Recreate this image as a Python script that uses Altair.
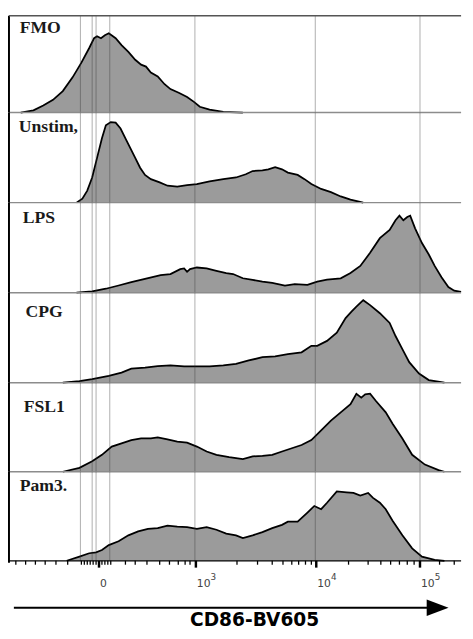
import altair as alt
import pandas as pd

# x values are logicle display channels (decade positions listed in TICK_*)
PANELS = ["FMO", "Unstim,", "LPS", "CPG", "FSL1", "Pam3."]

FMO_X = [20, 33, 43, 53, 63, 73, 82, 90, 95, 98, 102, 106, 110, 117, 123, 130, 137, 143, 148, 153, 160, 167, 173, 182, 190, 197, 203, 213, 227, 247]
FMO_Y = [0, 2.3, 7.3, 13, 22, 36, 51, 66, 76, 78, 76, 79, 81, 76, 69, 62, 54, 49, 47, 41, 37, 29, 24, 20, 16, 11, 6, 3, 0.7, 0]

UNSTIM_X = [77, 83, 88, 93, 98, 103, 107, 112, 117, 122, 127, 132, 137, 142, 147, 153, 162, 170, 180, 190, 200, 213, 227, 240, 250, 257, 267, 273, 280, 287, 293, 303, 310, 317, 327, 337, 347, 357, 370]
UNSTIM_Y = [0, 4, 12.3, 25.7, 45.7, 65.7, 79, 82.3, 81.7, 75.7, 65.7, 55.7, 45.7, 35.7, 28.3, 24, 20.7, 17.3, 16.3, 18, 19, 21.7, 24, 25.7, 29, 32.3, 33, 34, 36.3, 34, 30.7, 28.3, 24, 19, 14, 10.7, 6.3, 3, 0]

LPS_X = [77, 93, 107, 120, 133, 147, 163, 173, 183, 187, 190, 193, 200, 210, 220, 230, 237, 247, 257, 267, 277, 290, 300, 313, 323, 333, 347, 357, 367, 377, 387, 397, 403, 407, 411, 415, 418, 423, 430, 437, 443, 450, 457, 463, 470]
LPS_Y = [0, 1.3, 4, 7.3, 10.7, 14, 18, 19, 24, 24.7, 21.3, 24, 25.7, 24.7, 22.3, 20, 19, 14.7, 13, 11.3, 10, 7.3, 8.7, 8, 11.3, 13.3, 14.7, 20, 27.3, 40.7, 55.7, 64, 74, 78.7, 74, 77.3, 78.7, 65.7, 50.7, 39, 27.3, 15.7, 5.7, 2, 0.7]

CPG_X = [63, 80, 93, 110, 123, 133, 147, 160, 173, 187, 200, 213, 227, 240, 253, 267, 280, 293, 307, 317, 323, 333, 343, 352, 358, 363, 370, 377, 387, 397, 403, 410, 417, 427, 437, 453]
CPG_Y = [0, 1.7, 3.7, 7, 10.3, 14.3, 15.3, 17, 17.7, 16.7, 16.7, 16.7, 17.7, 19.3, 22.7, 26, 27, 29.3, 31, 37.7, 37.7, 42.7, 51, 66, 72.7, 77.7, 84.3, 79.3, 71, 61, 47.7, 34.3, 21, 9.3, 2.7, 0]

FSL1_X = [63, 80, 93, 103, 113, 123, 133, 143, 153, 160, 170, 180, 190, 200, 210, 220, 233, 247, 257, 267, 277, 287, 297, 307, 317, 327, 337, 347, 357, 363, 368, 372, 377, 383, 393, 400, 410, 420, 433, 447, 453]
FSL1_Y = [0, 4, 10.7, 17.3, 25.7, 29, 32.3, 34, 34, 35, 33, 30.7, 29.7, 25.7, 20.7, 17.3, 15, 13, 15.7, 16.3, 17.3, 20.7, 24, 27.3, 32.3, 42.3, 52.3, 60.7, 69, 79.7, 75.7, 79, 79.7, 72.3, 60.7, 49, 34, 17.3, 7.3, 1.7, 0]

PAM3_X = [67, 80, 90, 97, 103, 110, 120, 130, 140, 150, 160, 170, 180, 190, 200, 210, 220, 230, 240, 247, 257, 267, 277, 287, 293, 303, 313, 320, 327, 333, 343, 353, 360, 367, 375, 380, 387, 393, 400, 410, 420, 430, 443, 453]
PAM3_Y = [0, 4.3, 7.7, 8.7, 11, 16, 20, 26, 30, 32.7, 33.3, 36, 35, 34.3, 32.7, 34.3, 31.7, 27.7, 26, 23.3, 26, 29.3, 33.3, 36.7, 40, 40, 49.3, 56, 52.7, 59.3, 71, 70, 69.3, 66.7, 69.3, 64.3, 59.3, 52.7, 41, 26, 12.7, 4.3, 1, 0]

GRID_X = [81, 93, 97, 111, 198, 321, 428]
TICK_MAJOR = [100, 199, 322, 428]
TICK_BASE = ["0", "10", "10", "10"]
TICK_EXP = ["", "3", "4", "5"]
TICK_MINOR = [15, 25, 35, 45, 56, 68, 82, 85, 88, 91, 94, 97, 103, 106, 109, 112,
              127, 137, 149, 162, 172, 181, 188, 193,
              241, 262, 277, 288, 297, 304, 311, 317,
              355, 375, 388, 398, 407, 415, 422, 448, 463]
AXIS_TITLE = "CD86-BV605"

SERIES = [(FMO_X, FMO_Y), (UNSTIM_X, UNSTIM_Y), (LPS_X, LPS_Y),
          (CPG_X, CPG_Y), (FSL1_X, FSL1_Y), (PAM3_X, PAM3_Y)]

W = 462
HEIGHTS = [99, 92, 92, 92, 91, 91]
LABEL_POS = [(11, 18), (10, 20), (14, 21), (17, 25), (15, 30), (11, 20)]

xsc = alt.Scale(domain=[8, 470], nice=False, zero=False)
FILL = "#9b9b9b"


def panel(i):
    xs, ys = SERIES[i]
    h = HEIGHTS[i]
    df = pd.DataFrame({"ch": xs, "count": ys})
    ysc = alt.Scale(domain=[0, h], nice=False, zero=True)
    X = alt.X("ch:Q", scale=xsc, axis=None)
    Y = alt.Y("count:Q", scale=ysc, axis=None)
    area = alt.Chart(df).mark_area(color=FILL, opacity=1).encode(x=X, y=Y)
    line = alt.Chart(df).mark_line(color="black", strokeWidth=1.8).encode(x=X, y=Y)
    grid = alt.Chart(pd.DataFrame({"g": GRID_X})).mark_rule(
        color="#333", opacity=0.4, strokeWidth=1
    ).encode(x=alt.X("g:Q", scale=xsc, axis=None))
    last = i == len(SERIES) - 1
    base = alt.Chart(pd.DataFrame({"a": [0]})).mark_rule(
        color="black" if last else "#8c8c8c", strokeWidth=1.3 if last else 1.5
    ).encode(x=alt.value(0), x2=alt.value(W), y=alt.value(h))
    left = alt.Chart(pd.DataFrame({"a": [0]})).mark_rule(
        color="black", strokeWidth=2
    ).encode(x=alt.value(0), y=alt.value(0), y2=alt.value(h + (2 if last else 0)))
    lx, ly = LABEL_POS[i]
    label = alt.Chart(pd.DataFrame({"name": [PANELS[i]]})).mark_text(
        align="left", baseline="alphabetic", font="Liberation Serif",
        fontWeight="bold", fontSize=18, color="#1a1a1a"
    ).encode(x=alt.value(lx), y=alt.value(ly), text="name:N")
    layers = [area, line, grid, base, left, label]
    if i == 0:
        top = alt.Chart(pd.DataFrame({"a": [0]})).mark_rule(
            color="#555", strokeWidth=1.5
        ).encode(x=alt.value(0), x2=alt.value(W), y=alt.value(0))
        layers.append(top)
    if last:
        minor = alt.Chart(pd.DataFrame({"t": TICK_MINOR})).mark_rule(
            color="black", strokeWidth=1.3
        ).encode(x=alt.X("t:Q", scale=xsc, axis=None), y=alt.value(h), y2=alt.value(h + 4))
        major = alt.Chart(pd.DataFrame({"t": TICK_MAJOR})).mark_rule(
            color="black", strokeWidth=2.5
        ).encode(x=alt.X("t:Q", scale=xsc, axis=None), y=alt.value(h), y2=alt.value(h + 7))
        tdf = pd.DataFrame({"t": TICK_MAJOR, "b": TICK_BASE, "e": TICK_EXP})
        labs = alt.Chart(tdf).mark_text(
            align="left", baseline="alphabetic", dx=1, font="DejaVu Sans",
            fontSize=11, color="#444"
        ).encode(x=alt.X("t:Q", scale=xsc, axis=None), y=alt.value(h + 27), text="b:N")
        exps = alt.Chart(tdf).mark_text(
            align="left", baseline="alphabetic", dx=15, font="DejaVu Sans",
            fontSize=9, color="#444"
        ).encode(x=alt.X("t:Q", scale=xsc, axis=None), y=alt.value(h + 20), text="e:N")
        arrow = alt.Chart(pd.DataFrame({"a": [0]})).mark_rule(
            color="black", strokeWidth=2
        ).encode(x=alt.value(5), x2=alt.value(432), y=alt.value(h + 48))
        head = alt.Chart(pd.DataFrame({"a": [0]})).mark_point(
            shape="M -1 -0.75 L 1 0 L -1 0.75 Z", filled=True, color="black",
            opacity=1, size=500, strokeWidth=0
        ).encode(x=alt.value(438), y=alt.value(h + 48))
        title = alt.Chart(pd.DataFrame({"t": [AXIS_TITLE]})).mark_text(
            align="center", baseline="alphabetic", font="DejaVu Sans",
            fontWeight="bold", fontSize=19, color="black"
        ).encode(x=alt.value(251), y=alt.value(h + 67), text="t:N")
        layers += [minor, major, labs, exps, arrow, head, title]
    return alt.layer(*layers).properties(width=W, height=h)


chart = alt.vconcat(*[panel(i) for i in range(len(SERIES))], spacing=0, bounds="flush").properties(
    padding={"left": 0, "top": 0, "right": 0, "bottom": 0}
).configure_view(stroke=None)

chart.save("out.html", embed_options={"renderer": "svg", "actions": False})
